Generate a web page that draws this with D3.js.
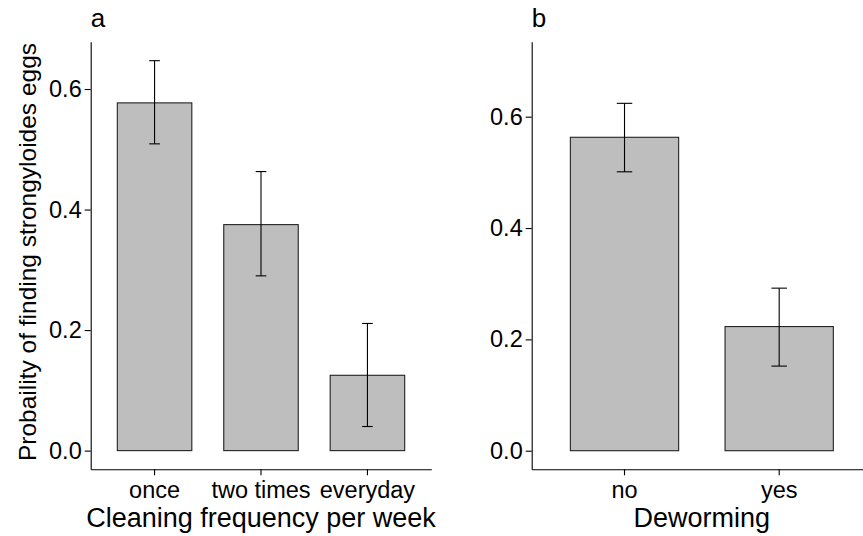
<!DOCTYPE html>
<html>
<head>
<meta charset="utf-8">
<script src="https://cdn.jsdelivr.net/npm/d3@7"></script>
<style>
  body { margin: 0; background: #fff; }
  svg { display: block; font-family: "Liberation Sans", Arial, sans-serif; }
</style>
</head>
<body>
<svg id="chart" width="863" height="536"></svg>
<script>
// panel a: cleaning frequency
var cleaning = ["once", "two times", "everyday"];
var cleaningProb = [0.577, 0.375, 0.125];
var cleaningLower = [0.509, 0.290, 0.040];
var cleaningUpper = [0.647, 0.463, 0.211];

// panel b: deworming
var deworming = ["no", "yes"];
var dewormProb = [0.563, 0.223];
var dewormLower = [0.501, 0.152];
var dewormUpper = [0.624, 0.292];

var yTicks = [0, 0.2, 0.4, 0.6];

var svg = d3.select("#chart");
var top_ = 41.7, bottom = 469.3;

var makepanel = function(opts) {
  var x = d3.scaleBand()
    .domain(opts.cats)
    .range([opts.left, opts.right])
    .paddingInner(0.3)
    .paddingOuter(0.25);
  var y = d3.scaleLinear()
    .domain(opts.ydom)
    .range([bottom, top_]);

  var g = svg.append("g");
  var rows = opts.cats.map(function(c, i) {
    return {cat: c, p: opts.prob[i], lo: opts.lower[i], hi: opts.upper[i]};
  });

  g.selectAll(".bar")
    .data(rows)
    .enter().append("rect")
    .attr("x", function(d) { return x(d.cat); })
    .attr("width", x.bandwidth())
    .attr("y", function(d) { return y(d.p); })
    .attr("height", function(d) { return y(0) - y(d.p); })
    .attr("fill", "#bebebe")
    .attr("stroke", "#222")
    .attr("stroke-width", 1.1);

  var cap = x.step() * 0.1 / 2;
  var eb = g.selectAll(".err")
    .data(rows)
    .enter().append("g")
    .attr("stroke", "#000")
    .attr("stroke-width", 1.1);
  eb.append("line")
    .attr("x1", function(d) { return x(d.cat) + x.bandwidth() / 2; })
    .attr("x2", function(d) { return x(d.cat) + x.bandwidth() / 2; })
    .attr("y1", function(d) { return y(d.lo); })
    .attr("y2", function(d) { return y(d.hi); });
  eb.append("line")
    .attr("x1", function(d) { return x(d.cat) + x.bandwidth() / 2 - cap; })
    .attr("x2", function(d) { return x(d.cat) + x.bandwidth() / 2 + cap; })
    .attr("y1", function(d) { return y(d.hi); })
    .attr("y2", function(d) { return y(d.hi); });
  eb.append("line")
    .attr("x1", function(d) { return x(d.cat) + x.bandwidth() / 2 - cap; })
    .attr("x2", function(d) { return x(d.cat) + x.bandwidth() / 2 + cap; })
    .attr("y1", function(d) { return y(d.lo); })
    .attr("y2", function(d) { return y(d.lo); });

  var yax = g.append("g")
    .attr("transform", "translate(" + opts.left + ",0)")
    .call(d3.axisLeft(y).tickValues(yTicks).tickFormat(d3.format(".1f")).tickSize(6).tickSizeOuter(0).tickPadding(3));
  var xax = g.append("g")
    .attr("transform", "translate(0," + bottom + ")")
    .call(d3.axisBottom(x).tickSize(6).tickSizeOuter(0).tickPadding(6));

  [yax, xax].forEach(function(a) {
    a.select(".domain").attr("stroke", "#000").attr("stroke-width", 1.1);
    a.selectAll(".tick line").attr("stroke", "#000").attr("stroke-width", 1.1);
    a.selectAll(".tick text").attr("fill", "#000").style("font-size", "23.5px").style("font-family", "Liberation Sans, Arial, sans-serif");
  });

  g.append("text")
    .attr("x", (opts.left + opts.right) / 2)
    .attr("y", 526.5)
    .attr("text-anchor", "middle")
    .style("font-size", "27px")
    .text(opts.xtitle);

  g.append("text")
    .attr("x", opts.left)
    .attr("y", 27)
    .style("font-size", "26px")
    .text(opts.tag);
};

makepanel({cats: cleaning, prob: cleaningProb, lower: cleaningLower, upper: cleaningUpper,
  left: 90.7, right: 431.3, ydom: [-0.031, 0.6785], xtitle: "Cleaning frequency per week", tag: "a"});
makepanel({cats: deworming, prob: dewormProb, lower: dewormLower, upper: dewormUpper,
  left: 531.7, right: 872, ydom: [-0.0334, 0.7347], xtitle: "Deworming", tag: "b"});

svg.append("text")
  .attr("transform", "translate(36,252) rotate(-90)")
  .attr("text-anchor", "middle")
  .style("font-size", "24.5px")
  .text("Probaility of finding strongyloides eggs");
</script>
</body>
</html>
